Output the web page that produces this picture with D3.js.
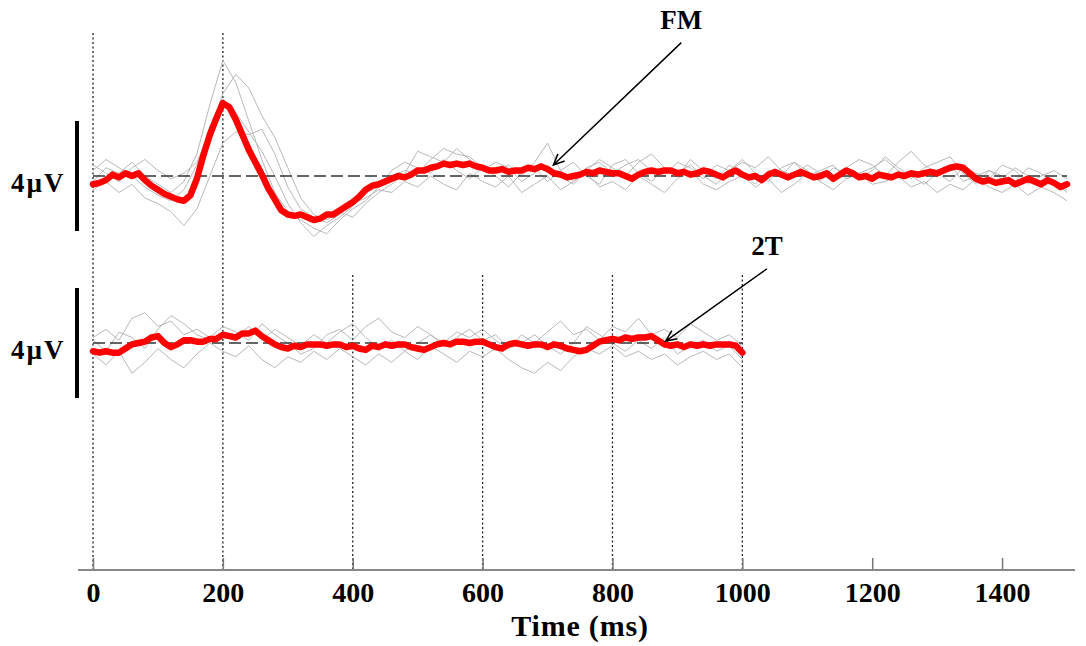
<!DOCTYPE html>
<html>
<head>
<meta charset="utf-8">
<script src="https://cdn.jsdelivr.net/npm/d3@7"></script>
<style>
  body { margin: 0; background: #fff; }
  text { font-family: "Liberation Serif", "Times New Roman", serif; font-weight: bold; }
</style>
</head>
<body>
<svg width="1086" height="646"></svg>
<script>
// time axis
var tickValues = [0, 200, 400, 600, 800, 1000, 1200, 1400];
var longGuides = [0, 200];
var shortGuides = [400, 600, 800, 1000];

// FM condition, 0..1500 ms, values in uV
var fmEnd = 1500;
var fmMean = [
  -0.3,-0.25,-0.15,0.05,-0.05,0.1,0,0.1,-0.15,-0.35,
  -0.5,-0.65,-0.75,-0.85,-0.9,-0.7,-0.1,0.75,1.5,2.1,
  2.65,2.5,2.05,1.5,0.95,0.5,0.05,-0.45,-0.85,-1.25,
  -1.4,-1.45,-1.4,-1.5,-1.6,-1.55,-1.4,-1.4,-1.25,-1.1,
  -0.95,-0.75,-0.5,-0.35,-0.3,-0.2,-0.1,0,-0.05,0.05,
  0.2,0.2,0.3,0.35,0.45,0.4,0.45,0.4,0.45,0.35,
  0.3,0.2,0.2,0.25,0.15,0.2,0.2,0.3,0.25,0.35,
  0.25,0.1,0.05,-0.05,0,0.05,0.15,0.1,0.2,0.15,
  0.1,0.1,0,-0.1,0.05,0.15,0.2,0.15,0.2,0.2,
  0.1,0.15,0.05,0.1,0.2,0.15,0.05,-0.05,0.1,0.2,
  0.05,-0.05,0,-0.15,0.05,0.15,0.05,-0.05,0.05,0.15,
  0.05,-0.05,0,0.1,-0.1,0.05,0.2,0.1,-0.05,0,
  -0.1,0.05,0,-0.05,0.05,0,0.1,0.05,0.1,0.15,
  0.1,0.2,0.3,0.35,0.3,0.1,-0.1,-0.2,-0.15,-0.25,
  -0.2,-0.15,-0.3,-0.2,-0.1,-0.2,-0.3,-0.15,-0.25,-0.4,
  -0.3
];
var fmSingle1 = [-0.2,0.3,0.1,0.5,0.0,-0.3,-0.6,-0.2,0.8,2.6,4.2,3.4,2.0,0.6,-0.6,-1.3,-1.6,-1.9,-2.1,-1.6,-1.2,-0.9,-0.4,0.0,0.2,0.1,0.6,1.0,0.8,0.7,0.3,0.2,0.4,0.0,0.5,1.2,0.2,-0.2,0.3,0.5,0.1,0.4,0.6,0.2,0.0,0.5,0.3,-0.1,0.4,0.2,0.6,0.1,-0.2,0.3,0.5,0.0,0.2,0.4,-0.1,0.1,0.3,0.6,0.2,-0.1,0.3,0.5,0.7,0.1,-0.3,0.2,0.0,-0.2,0.3,0.1,-0.3,-0.5];
var fmSingle2 = [0.4,0.1,-0.2,0.3,0.6,0.2,-0.1,0.1,0.5,1.6,3.0,3.7,3.2,2.2,1.4,0.3,-0.8,-1.4,-1.6,-1.3,-1.5,-1.0,-0.6,-0.3,0.1,0.9,0.7,0.5,1.0,0.6,0.2,0.5,0.3,-0.2,0.1,0.4,0.0,-0.3,0.2,0.6,0.3,0.0,0.5,0.8,0.3,0.1,0.4,0.0,-0.3,0.2,0.5,0.3,0.7,0.2,0.0,0.4,0.1,-0.2,0.3,0.6,0.4,0.0,0.5,0.9,0.4,0.1,-0.2,0.3,0.1,-0.1,0.4,0.2,-0.3,0.0,0.2,-0.1];
var fmSingle3 = [-0.5,-0.2,-0.6,-0.3,-0.8,-1.0,-1.3,-1.8,-1.2,0.0,1.2,1.6,1.5,1.7,0.8,-0.4,-1.2,-1.5,-1.7,-1.4,-1.0,-0.8,-0.5,-0.6,-0.2,-0.4,0.0,-0.3,-0.5,0.1,-0.2,-0.4,0.0,-0.6,-0.3,0.0,-0.5,-0.2,0.1,-0.4,-0.2,-0.5,0.0,-0.3,-0.6,-0.1,0.2,-0.3,-0.5,-0.2,0.0,-0.4,-0.1,-0.6,-0.3,0.1,-0.2,-0.5,-0.1,0.1,-0.3,-0.2,0.0,-0.4,-0.2,-0.6,-0.3,-0.5,-0.1,-0.4,-0.6,-0.3,-0.7,-0.4,-0.6,-0.9];
var fmSingle4 = [0.2,0.6,0.3,0.0,-0.4,-0.7,-0.9,-0.5,0.4,1.8,2.8,2.3,1.6,0.9,0.0,-1.0,-1.7,-2.2,-1.8,-1.5,-1.1,-0.6,-0.4,0.2,0.5,0.3,0.1,0.6,0.2,-0.1,0.3,0.0,-0.4,0.1,0.3,-0.2,0.2,0.5,0.0,-0.3,0.4,0.6,0.1,-0.2,0.3,0.0,0.6,0.2,-0.1,0.4,0.1,-0.3,0.2,0.0,0.5,0.2,-0.2,0.3,0.1,-0.1,0.2,0.7,0.3,0.0,-0.3,0.1,0.4,-0.2,0.0,0.2,-0.1,0.3,0.0,-0.4,-0.2,-0.6];

// 2T condition, 0..1000 ms
var ttEnd = 1000;
var ttMean = [
  -0.3,-0.35,-0.3,-0.35,-0.35,-0.2,-0.05,0,0.05,0.2,
  0.25,0,-0.15,-0.05,0.1,0.1,0.05,0.05,0.15,0.15,
  0.3,0.25,0.2,0.35,0.35,0.45,0.25,0.1,-0.05,-0.15,
  -0.2,-0.1,-0.15,-0.05,-0.05,-0.05,-0.1,-0.05,-0.05,-0.15,
  -0.1,-0.2,-0.25,-0.1,-0.15,-0.05,-0.1,-0.05,-0.05,-0.15,
  -0.2,-0.25,-0.15,-0.05,0,-0.05,0.05,0.05,0,0.05,
  0.05,-0.05,-0.15,-0.2,-0.05,0,-0.05,-0.1,-0.05,-0.05,
  -0.15,-0.05,-0.1,-0.2,-0.25,-0.3,-0.25,-0.1,0.05,0.1,
  0.15,0.1,0.2,0.15,0.2,0.2,0.25,0.1,-0.05,-0.1,
  -0.05,-0.15,-0.05,-0.1,-0.05,-0.1,-0.05,-0.05,-0.05,-0.1,
  -0.35
];
var ttSingle1 = [0.2,0.5,0.1,0.9,1.1,0.6,0.8,0.3,0.5,0.2,0.6,0.4,0.1,0.7,0.3,0.0,-0.4,-0.2,0.3,0.5,0.1,0.6,0.9,0.4,0.2,0.6,0.3,0.0,0.4,0.2,0.5,0.1,-0.2,0.3,0.0,0.4,0.8,0.3,0.5,0.1,0.6,0.4,0.9,0.3,0.5,0.2,0.7,0.4,0.1,0.3,-0.1];
var ttSingle2 = [-0.4,-0.8,-0.3,-1.1,-0.7,-0.2,-0.6,-0.9,-0.4,0.0,-0.3,-0.5,-0.1,-0.6,-0.9,-0.5,-0.7,-0.3,-0.6,-0.2,-0.5,-0.8,-0.4,-0.7,-0.3,-0.6,-0.1,-0.4,-0.7,-0.3,-0.5,-0.2,-0.6,-0.9,-1.1,-0.7,-1.0,-0.5,-0.2,-0.4,-0.1,-0.5,-0.3,-0.6,-0.4,-0.8,-0.5,-0.3,-0.6,-0.4,-0.9];
var ttSingle3 = [0.1,-0.3,0.4,0.2,-0.2,0.5,1.0,0.7,0.3,0.1,0.4,0.2,0.6,0.1,0.5,0.2,-0.1,0.3,0.0,0.4,0.7,0.2,-0.2,0.1,-0.3,0.0,0.3,-0.1,0.2,0.5,0.1,0.3,-0.2,0.0,0.3,-0.1,-0.4,0.0,0.6,0.3,0.0,-0.3,0.1,-0.2,0.2,-0.4,-0.1,0.1,-0.3,-0.1,-0.6];

var scaleBarUV = 4;

var svg = d3.select("svg"),
    width = +svg.attr("width"),
    height = +svg.attr("height");

var x = d3.scaleLinear().domain([0, 1500]).range([93, 1067]);
var axisY = 570;

// one panel per condition, scale bar spans -2..+2 uV
var panels = [
  { name: "FM", end: fmEnd, mean: fmMean, singles: [fmSingle1, fmSingle2, fmSingle3, fmSingle4],
    y: d3.scaleLinear().domain([-2, 2]).range([231, 121]),
    note: { tip: [709, 0.4], tail: [906, 4.85] } },
  { name: "2T", end: ttEnd, mean: ttMean, singles: [ttSingle1, ttSingle2, ttSingle3],
    y: d3.scaleLinear().domain([-2, 2]).range([398, 288]),
    note: { tip: [882, 0.07], tail: [1038, 2.7] } }
];

function toPoints(vals, end) {
  var n = vals.length - 1;
  return vals.map(function (v, i) { return [i * end / n, v]; });
}

// dotted time guides
var guides = svg.append("g")
    .attr("stroke", "#222")
    .attr("stroke-width", 1.3)
    .attr("stroke-dasharray", "2,2.5");

guides.selectAll("line.long")
    .data(longGuides)
  .enter().append("line")
    .attr("x1", function (d) { return x(d); })
    .attr("x2", function (d) { return x(d); })
    .attr("y1", 33)
    .attr("y2", axisY);

guides.selectAll("line.short")
    .data(shortGuides)
  .enter().append("line")
    .attr("x1", function (d) { return x(d); })
    .attr("x2", function (d) { return x(d); })
    .attr("y1", 275)
    .attr("y2", axisY);

panels.forEach(function (p) {
  var line = d3.line()
      .x(function (d) { return x(d[0]); })
      .y(function (d) { return p.y(d[1]); });

  var g = svg.append("g");

  g.selectAll("path.single")
      .data(p.singles)
    .enter().append("path")
      .attr("fill", "none")
      .attr("stroke", "#b8b8b8")
      .attr("stroke-width", 1)
      .attr("d", function (d) { return line(toPoints(d, p.end)); });

  // zero baseline
  g.append("line")
      .attr("x1", x(0))
      .attr("x2", x(p.end))
      .attr("y1", p.y(0))
      .attr("y2", p.y(0))
      .attr("stroke", "#333")
      .attr("stroke-width", 1.4)
      .attr("stroke-dasharray", "12,5");

  g.append("path")
      .attr("fill", "none")
      .attr("stroke", "#ff0000")
      .attr("stroke-width", 6.5)
      .attr("stroke-linejoin", "round")
      .attr("stroke-linecap", "round")
      .attr("d", line(toPoints(p.mean, p.end)));

  // scale bar + label
  g.append("line")
      .attr("x1", 77).attr("x2", 77)
      .attr("y1", p.y(-scaleBarUV / 2))
      .attr("y2", p.y(scaleBarUV / 2))
      .attr("stroke", "#000")
      .attr("stroke-width", 4);

  g.append("text")
      .attr("x", 11)
      .attr("y", p.y(0) + 16)
      .attr("font-size", 27)
      .attr("letter-spacing", 2)
      .text(scaleBarUV + "\u00b5V");

  // arrow annotation
  var x0 = x(p.note.tail[0]), y0 = p.y(p.note.tail[1]),
      x1 = x(p.note.tip[0]), y1 = p.y(p.note.tip[1]);
  var ang = Math.atan2(y1 - y0, x1 - x0), head = 12, spread = 0.42;
  g.append("path")
      .attr("fill", "none")
      .attr("stroke", "#000")
      .attr("stroke-width", 1.5)
      .attr("d", "M" + x0 + "," + y0 + "L" + x1 + "," + y1 +
        "M" + (x1 - head * Math.cos(ang - spread)) + "," + (y1 - head * Math.sin(ang - spread)) +
        "L" + x1 + "," + y1 +
        "L" + (x1 - head * Math.cos(ang + spread)) + "," + (y1 - head * Math.sin(ang + spread)));

  g.append("text")
      .attr("x", x0)
      .attr("y", y0 - 14)
      .attr("text-anchor", "middle")
      .attr("font-size", 27)
      .text(p.name);
});

// x axis
var axis = svg.append("g")
    .attr("transform", "translate(0," + axisY + ")")
    .call(d3.axisBottom(x).tickValues(tickValues).tickSize(-12).tickPadding(12).tickFormat(d3.format("d")));

axis.select(".domain").remove();
axis.selectAll(".tick line").attr("stroke", "#777").attr("stroke-width", 1.5);
axis.selectAll(".tick text")
    .attr("font-size", 28)
    .attr("fill", "#000")
    .style("font-family", "'Liberation Serif', 'Times New Roman', serif")
    .style("font-weight", "bold");

svg.append("line")
    .attr("x1", x(0) - 15)
    .attr("x2", x(1500) + 8)
    .attr("y1", axisY)
    .attr("y2", axisY)
    .attr("stroke", "#888")
    .attr("stroke-width", 2);

svg.append("text")
    .attr("x", 580)
    .attr("y", 636)
    .attr("text-anchor", "middle")
    .attr("font-size", 30)
    .attr("letter-spacing", 0.8)
    .text("Time (ms)");
</script>
</body>
</html>
